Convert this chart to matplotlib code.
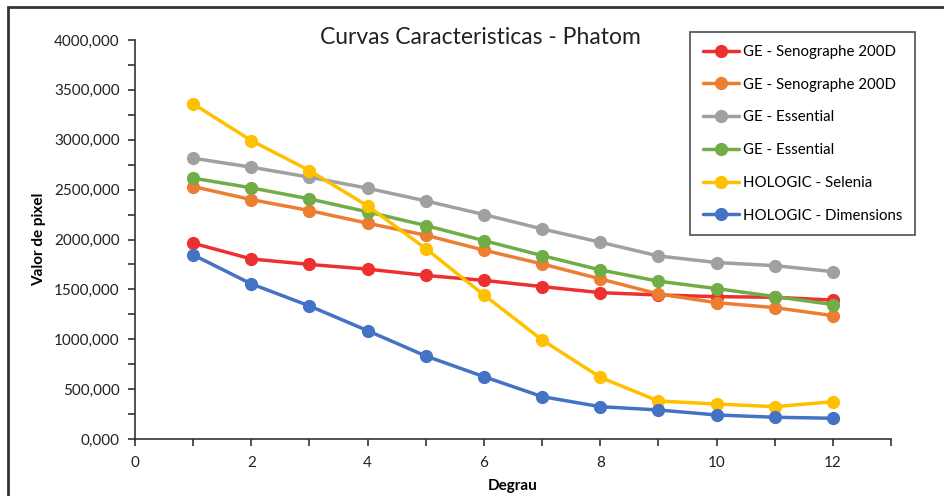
import matplotlib
matplotlib.use("Agg")
import matplotlib.pyplot as plt
from matplotlib.ticker import MultipleLocator, FuncFormatter
from matplotlib.patches import Rectangle

degrau = [1, 2, 3, 4, 5, 6, 7, 8, 9, 10, 11, 12]
ge_seno_1 = [1963, 1805, 1750, 1703, 1640, 1590, 1528, 1467, 1444, 1427, 1421, 1392]
ge_seno_2 = [2531, 2400, 2290, 2163, 2043, 1893, 1755, 1605, 1454, 1367, 1317, 1237]
ge_ess_1 = [2815, 2725, 2625, 2514, 2387, 2250, 2106, 1973, 1835, 1769, 1738, 1678]
ge_ess_2 = [2615, 2518, 2407, 2277, 2140, 1989, 1839, 1695, 1582, 1508, 1428, 1348]
hol_selenia = [3360, 2992, 2691, 2337, 1909, 1444, 993, 619, 381, 351, 324, 374]
hol_dimensions = [1846, 1555, 1334, 1086, 832, 625, 425, 324, 291, 241, 218, 208]

series_labels = ["GE - Senographe 200D", "GE - Senographe 200D", "GE - Essential",
                 "GE - Essential", "HOLOGIC - Selenia", "HOLOGIC - Dimensions"]
series_values = [ge_seno_1, ge_seno_2, ge_ess_1, ge_ess_2, hol_selenia, hol_dimensions]
colors = ["#EE2F2F", "#ED7D31", "#A0A0A0", "#70AD47", "#FFC000", "#4472C4"]

plt.rcParams['font.family'] = ['Lato', 'DejaVu Sans']

fig = plt.figure(figsize=(9.45, 4.96), dpi=100)
ax = fig.add_axes([135/945, 1-439/496, (891-135)/945, (439-40)/496])

for vals, lab, c in zip(series_values, series_labels, colors):
    ax.plot(degrau, vals, color=c, lw=2.5, marker='o', ms=8.5, label=lab,
            solid_capstyle='round')

ax.set_xlim(0, 13)
ax.set_ylim(0, 4000)
ax.xaxis.set_major_locator(MultipleLocator(2))
ax.xaxis.set_minor_locator(MultipleLocator(1))
ax.yaxis.set_major_locator(MultipleLocator(500))
ax.yaxis.set_minor_locator(MultipleLocator(250))
ax.yaxis.set_major_formatter(FuncFormatter(lambda v, p: f"{v:.3f}".replace('.', ',')))
ax.xaxis.set_major_formatter(FuncFormatter(lambda v, p: f"{int(v)}" if v <= 12 else ""))

for s in ['top', 'right']:
    ax.spines[s].set_visible(False)
for s in ['left', 'bottom']:
    ax.spines[s].set_color('#333333')
    ax.spines[s].set_linewidth(1.2)

ax.tick_params(axis='both', which='both', direction='out', length=5, width=1.2,
               color='#333333', labelsize=11, labelcolor='#222222')
ax.tick_params(axis='x', pad=7)
ax.tick_params(axis='y', pad=6)

ax.set_xlabel("Degrau", fontsize=11, fontweight='bold', labelpad=7)
ax.set_ylabel("Valor de pixel", fontsize=11, fontweight='bold', labelpad=6)

fig.text(480/945, 1-38/496, "Curvas Caracteristicas - Phatom", fontsize=16.5,
         ha='center', va='center', color='#222222')

leg = ax.legend(loc='upper left', bbox_to_anchor=((690-135)/756, (439-32)/399),
                frameon=True, fancybox=False, fontsize=10.8, labelspacing=1.25,
                handlelength=2.4, handletextpad=0.3, borderpad=0.85,
                borderaxespad=0)
leg.get_frame().set_edgecolor('#222222')
leg.get_frame().set_linewidth(1.2)

fig.patches.append(Rectangle((8/945, -0.1), 1.5, 1.1 - 7/496, transform=fig.transFigure,
                             fill=False, edgecolor='#333333', linewidth=2))

fig.savefig("out.png", dpi=100)
